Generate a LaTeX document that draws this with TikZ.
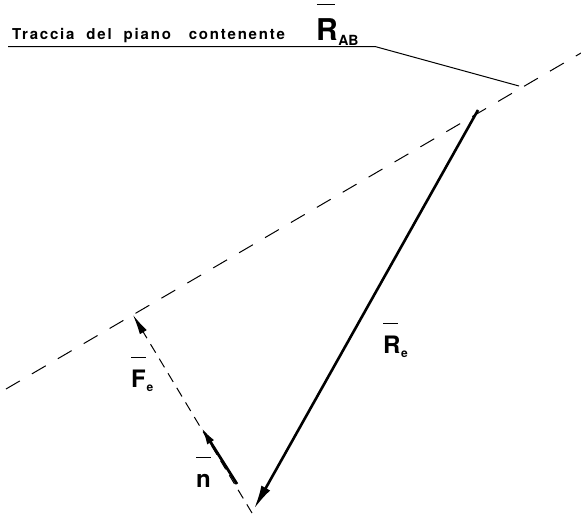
\documentclass[tikz,border=0pt]{standalone}
\usepackage{fontspec}
\setmainfont{TeX Gyre Heros}
\usetikzlibrary{arrows.meta}
\newcommand{\vecbar}[2][0pt]{\leavevmode\vbox{\hbox{\kern#1\vrule height 1.1pt depth 0pt width 0.62em}\kern2.6pt\hbox{#2}}}
\tikzset{
  lbl/.style={inner sep=0pt, font=\bfseries},
  bigdash/.style={dash pattern=on 16pt off 14pt, line width=1pt},
  smalldash/.style={dash pattern=on 10pt off 7pt, line width=1pt},
  vecline/.style={line width=2.6pt, -{Latex[length=24pt,width=10pt]}},
}
\begin{document}
\begin{tikzpicture}[x=1pt,y=-1pt]
\useasboundingbox (0,0) rectangle (581,514);
% coordinates
\coordinate (T1) at (8,46.5);
\coordinate (T2) at (375,46.5);
\coordinate (T3) at (519,86);
\coordinate (D1) at (6,389);
\coordinate (D2) at (581,53);
\coordinate (Ftip) at (133,315);
\coordinate (Pend) at (252,513);
\coordinate (Rtop) at (478,110);
\coordinate (Rtip) at (254,509);
\coordinate (Nstart) at (237,484);
\coordinate (Ntip) at (201,427);
% trace line
\draw[line width=1pt] (T1) -- (T2) -- (T3);
\node[lbl, anchor=base west, font=\bfseries\fontsize{15}{17}\selectfont\addfontfeature{LetterSpace=12}] (title) at (12,39) {Traccia\ \ del\ \ piano\ \ \ contenente};
\node[lbl, anchor=base west] (rab) at (316,40) {\fontsize{30}{32}\selectfont\vecbar[0.02em]{R}\kern0.5pt\raisebox{-5pt}{\fontsize{14}{15}\selectfont AB}};
% dashed plane line
\draw[bigdash] (D1) -- (D2);
% perpendicular dashed with F_e arrow
\draw[smalldash, -{Latex[length=20pt,width=8pt]}] (Pend) -- (Ftip);
% R_e vector
\draw[vecline] (Rtop) -- (Rtip);
% n vector
\draw[line width=2.8pt, -{Latex[length=18pt,width=8pt]}] (Nstart) -- (Ntip);
% labels
\node[lbl, anchor=base west] (Re) at (383,353) {\fontsize{24}{26}\selectfont\vecbar{R}\kern0.5pt\raisebox{-4pt}{\fontsize{12}{13}\selectfont e}};
\node[lbl, anchor=base west] (Fe) at (131,387) {\fontsize{24}{26}\selectfont\vecbar{F}\kern0.5pt\raisebox{-4pt}{\fontsize{12}{13}\selectfont e}};
\node[lbl, anchor=base west] (n) at (196,487) {\fontsize{24}{26}\selectfont\vecbar{n}};
\end{tikzpicture}
\end{document}
